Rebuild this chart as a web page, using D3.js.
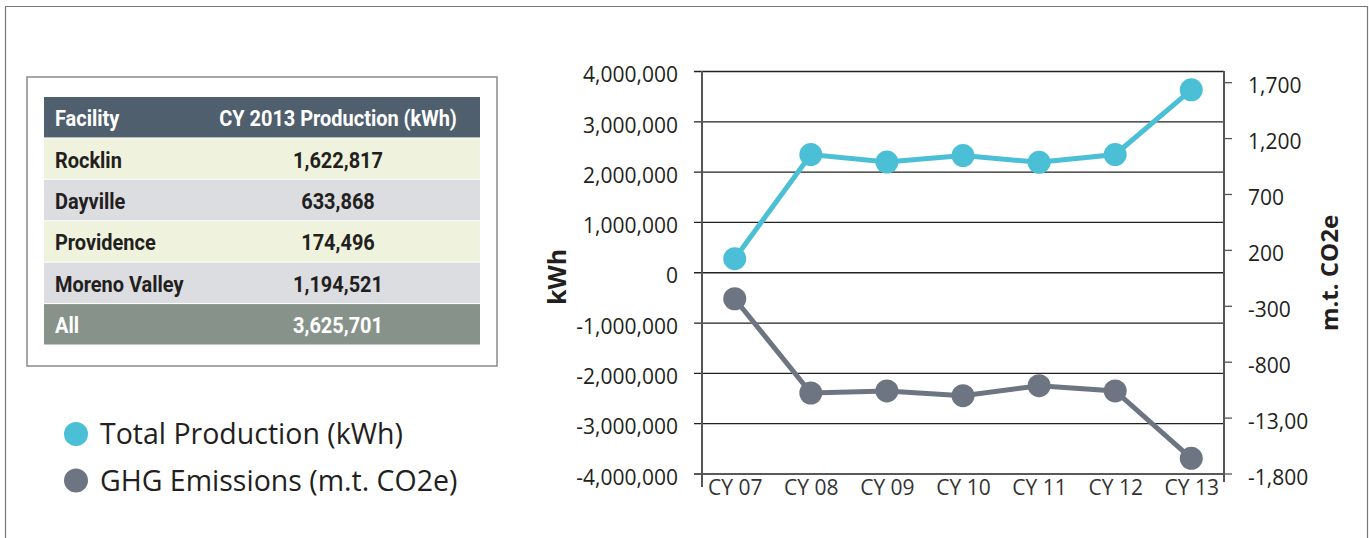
<!DOCTYPE html>
<html>
<head>
<meta charset="utf-8">
<script src="https://cdn.jsdelivr.net/npm/d3@7"></script>
<style>
	body { margin: 0; background: #fff; }
	text { font-family: "Open Sans", "Noto Sans", sans-serif; fill: #231f20; }
	.cond { font-family: "Roboto", "Liberation Sans", sans-serif; font-weight: bold; }
</style>
</head>
<body>
<div id="chart-area"></div>
<script>

// Table data
let facilities = ["Rocklin", "Dayville", "Providence", "Moreno Valley"];
let production2013 = [1622817, 633868, 174496, 1194521];
let totalName = "All";
let totalValue = 3625701;
let tableHeader = ["Facility", "CY 2013 Production (kWh)"];

// Chart data
let years = ["CY 07", "CY 08", "CY 09", "CY 10", "CY 11", "CY 12", "CY 13"];
let totalProduction = [270000, 2340000, 2190000, 2320000, 2185000, 2340000, 3625701];
let ghgEmissions = [-237, -1080, -1062, -1104, -1015, -1062, -1664];

// Tick labels
let leftTicks = [4000000, 3000000, 2000000, 1000000, 0, -1000000, -2000000, -3000000, -4000000];
let rightTicks = [1700, 1200, 700, 200, -300, -800, -1300, -1800];
let rightTickLabels = ["1,700", "1,200", "700", "200", "-300", "-800", "-13,00", "-1,800"];

let legendLabels = ["Total Production (kWh)", "GHG Emissions (m.t. CO2e)"];

let blue = "#4bbfd6", grey = "#6e7582";

// plain hyphen for negatives, like the original
let fmt = d3.formatLocale({decimal: ".", thousands: ",", grouping: [3], currency: ["$", ""], minus: "-"}).format(",");

let svg = d3.select("#chart-area").append("svg")
	.attr("width", 1369)
	.attr("height", 538);

// outer frame
svg.append("path")
	.attr("d", "M5.5,538 V6.5 H1367.5 V538")
	.attr("fill", "none")
	.attr("stroke", "#777")
	.attr("stroke-width", 1.2);

// ---------- table ----------
svg.append("rect")
	.attr("x", 27).attr("y", 77)
	.attr("width", 470).attr("height", 289)
	.attr("fill", "none")
	.attr("stroke", "#8a8a8a")
	.attr("stroke-width", 1.5);

let rows = [{name: tableHeader[0], value: tableHeader[1], type: "head"}]
	.concat(facilities.map((f, i) => ({name: f, value: fmt(production2013[i]), type: i % 2 ? "odd" : "even"})))
	.concat([{name: totalName, value: fmt(totalValue), type: "total"}]);

let rowScale = d3.scaleBand()
	.domain(d3.range(rows.length))
	.range([97, 345.5]);

let rowFill = {head: "#4f5f6d", even: "#eff3de", odd: "#dcdde1", total: "#87938a"};
let lightText = d => (d.type == "head" || d.type == "total") ? "#fff" : "#231f20";

let rowG = svg.selectAll(".row")
	.data(rows)
	.enter()
	.append("g")
	.attr("class", "row")
	.attr("transform", (d, i) => "translate(0," + rowScale(i) + ")");

rowG.append("rect")
	.attr("x", 44)
	.attr("width", 436)
	.attr("height", rowScale.bandwidth() - 1)
	.attr("fill", d => rowFill[d.type]);

let nameText = rowG.append("text")
	.attr("class", "cond")
	.style("font-size", "23px")
	.style("fill", lightText)
	.text(d => d.name);

let valueText = rowG.append("text")
	.attr("class", "cond")
	.style("text-anchor", "middle")
	.style("font-size", "23px")
	.style("fill", lightText)
	.text(d => d.value);

// squeeze the bold text to a condensed look (header is ~238px wide in the original)
let headW = valueText.node().getComputedTextLength();
let sx = 238 / headW;
let baseY = rowScale.bandwidth() / 2 + 8.5;
nameText.attr("transform", "translate(55," + baseY + ") scale(" + sx + ",1)");
valueText.attr("transform", "translate(338," + baseY + ") scale(" + sx + ",1)");

// ---------- legend ----------
let legend = svg.selectAll(".legend")
	.data(legendLabels)
	.enter()
	.append("g")
	.attr("class", "legend")
	.attr("transform", (d, i) => "translate(76," + (434 + i * 46.5) + ")");

legend.append("circle")
	.attr("r", 12)
	.attr("fill", (d, i) => i ? grey : blue);

legend.append("text")
	.attr("x", 24)
	.attr("y", 10)
	.style("font-size", "28.5px")
	.text(d => d);

// ---------- line chart ----------
let plotLeft = 702, plotRight = 1224, plotTop = 71, plotBottom = 473.5;

let x = d3.scalePoint()
	.domain(years)
	.range([plotLeft, plotRight])
	.padding(0.43);

let yLeft = d3.scaleLinear()
	.domain([-4000000, 4000000])
	.range([plotBottom, plotTop]);

let yRight = d3.scaleLinear()
	.domain([-1800, 1800])
	.range([plotBottom, plotTop]);

// gridlines (extend 8px past the left axis as ticks)
let grid = svg.append("g")
	.attr("transform", "translate(" + plotRight + ",0)")
	.call(d3.axisLeft(yLeft).tickValues(leftTicks).tickSize(plotRight - plotLeft + 8).tickFormat(""));
grid.select(".domain").remove();
grid.selectAll("line").attr("stroke", "#222").attr("stroke-width", 1.3);

// left labels
let yAxisL = svg.append("g")
	.attr("transform", "translate(" + plotLeft + ",0)")
	.call(d3.axisLeft(yLeft).tickValues(leftTicks).tickSize(0).tickPadding(24).tickFormat(fmt));
yAxisL.select(".domain").remove();
yAxisL.selectAll("text")
	.attr("y", 4)
	.style("font-size", "21px")
	.style("font-family", "'Open Sans', sans-serif")
	.style("fill", "#231f20");

// right axis
let yAxisR = svg.append("g")
	.attr("transform", "translate(" + plotRight + ",0)")
	.call(d3.axisRight(yRight).tickValues(rightTicks).tickSize(8).tickPadding(16).tickFormat((d, i) => rightTickLabels[i]));
yAxisR.select(".domain").remove();
yAxisR.selectAll("line").attr("stroke", "#555").attr("stroke-width", 1.3);
yAxisR.selectAll("text")
	.attr("y", 4)
	.style("font-size", "21px")
	.style("font-family", "'Open Sans', sans-serif")
	.style("fill", "#231f20");

// vertical axis lines
svg.append("line")
	.attr("x1", plotLeft).attr("x2", plotLeft)
	.attr("y1", plotTop).attr("y2", 487)
	.attr("stroke", "#555").attr("stroke-width", 2);
svg.append("line")
	.attr("x1", plotRight).attr("x2", plotRight)
	.attr("y1", plotTop).attr("y2", 482)
	.attr("stroke", "#555").attr("stroke-width", 2);

// x labels
let xAxis = svg.append("g")
	.attr("transform", "translate(0," + plotBottom + ")")
	.call(d3.axisBottom(x).tickSize(0).tickPadding(7));
xAxis.select(".domain").remove();
xAxis.selectAll("text")
	.style("font-size", "21px")
	.style("font-family", "'Open Sans', sans-serif")
	.style("fill", "#333");

// axis titles
svg.append("text")
	.attr("transform", "translate(566,277) rotate(-90)")
	.style("text-anchor", "middle")
	.style("font-size", "25px")
	.style("font-weight", "bold")
	.text("kWh");

svg.append("text")
	.attr("transform", "translate(1338,273) rotate(-90)")
	.style("text-anchor", "middle")
	.style("font-size", "24px")
	.style("font-weight", "bold")
	.text("m.t. CO2e");

// series
let series = [
	{values: totalProduction, scale: yLeft, color: blue},
	{values: ghgEmissions, scale: yRight, color: grey}
];

series.forEach(s => {
	let line = d3.line()
		.x((d, i) => x(years[i]))
		.y(d => s.scale(d));

	svg.append("path")
		.datum(s.values)
		.attr("d", line)
		.attr("fill", "none")
		.attr("stroke", s.color)
		.attr("stroke-width", 5);

	svg.selectAll(null)
		.data(s.values)
		.enter()
		.append("circle")
		.attr("cx", (d, i) => x(years[i]))
		.attr("cy", d => s.scale(d))
		.attr("r", 11.5)
		.attr("fill", s.color);
});

</script>
</body>
</html>
